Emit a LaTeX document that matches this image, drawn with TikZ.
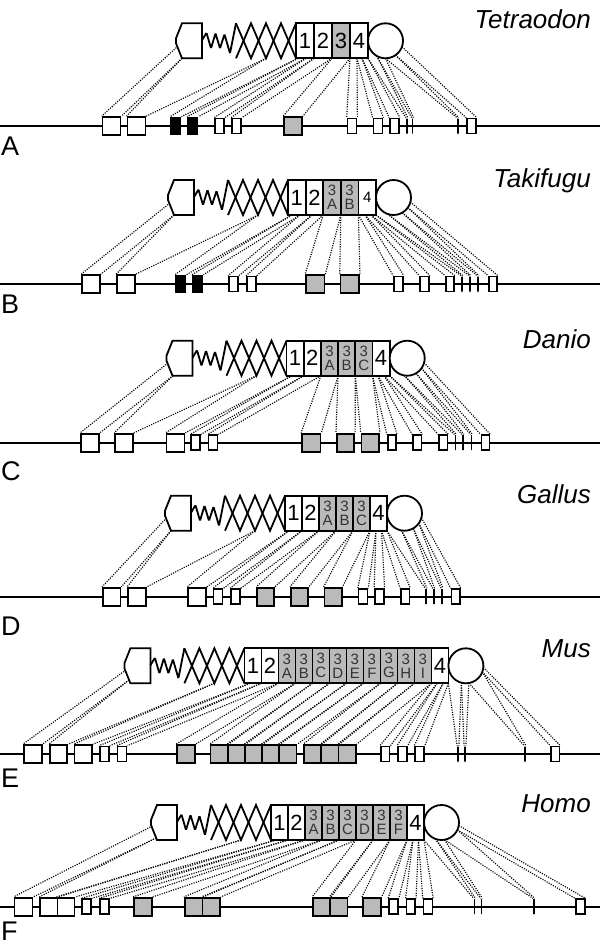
\documentclass[tikz,border=0pt]{standalone}
\usepackage{fontspec}
\setmainfont{Liberation Sans}
\pgfdeclarelayer{bg}
\pgfsetlayers{bg,main}
\tikzset{
  outl/.style={draw=black, line width=1.8pt, line join=miter},
  baseln/.style={line width=1.8pt},
  conn/.style={line width=1.15pt, dash pattern=on 1.1pt off 1.3pt},
  exw/.style={draw, line width=1.7pt, fill=white, inner sep=0pt},
  exg/.style={exw, fill=black!27},
  exk/.style={exw, fill=black},
  tk/.style={draw, line width=1.8pt, inner sep=0pt},
  bigcell/.style={outl, fill=white, inner sep=0pt, minimum height=35pt, font=\fontsize{22}{22}\selectfont},
  grbig/.style={bigcell, fill=black!27},
  smcell/.style={outl, fill=white, inner sep=0pt, minimum height=35pt, font=\fontsize{15}{15}\selectfont},
  grcell/.style={outl, fill=black!27, inner sep=0pt, minimum height=35pt, align=center, font=\fontsize{15}{14}\selectfont, text=black!80},
  spec/.style={font=\fontsize{26}{26}\selectfont\itshape, inner sep=0pt, anchor=base east},
  plab/.style={font=\fontsize{27}{27}\selectfont, inner sep=0pt, anchor=base west},
}
% #1 name, #2 hexagon left x, #3 protein top y, #4 cell width, #5 cells, #6 number of cells,
% #7 gene line y, #8 exons, #9 protein points
\newcommand\drawpanel[9]{%
  \pgfmathsetmacro\pXl{#2}%
  \pgfmathsetmacro\pYt{#3}%
  \pgfmathsetmacro\pYb{#3+35}%
  \pgfmathsetmacro\pYm{#3+17.5}%
  \pgfmathsetmacro\pXr{#2+26}%
  \pgfmathsetmacro\pXa{#2+60}%
  \pgfmathsetmacro\pXb{#2+120}%
  \foreach \k/\px/\py in {#9} {\coordinate (#1-p\k) at (\px,\py);}
  \begin{pgfonlayer}{bg}
    \draw[baseln] (0,#7) coordinate (#1-L) -- (600,#7) coordinate (#1-R);
  \end{pgfonlayer}
  \foreach \i/\ex/\ew/\eh/\es in {#8} {
    \node[\es, minimum width=\ew pt, minimum height=\eh pt] (#1-e\i) at (\ex+\ew/2,#7) {};
    \pgfmathtruncatemacro\j{\i-1}
    \begin{pgfonlayer}{bg}
      \draw[conn] (#1-p\j) -- (#1-e\i.north west);
      \draw[conn] (#1-p\i) -- (#1-e\i.north east);
    \end{pgfonlayer}
  }
  \draw[outl, fill=white] (\pXl+6,\pYt) -- (\pXr,\pYt) -- (\pXr,\pYb) -- (\pXl+6,\pYb)
     -- (\pXl,\pYt+20) -- (\pXl,\pYt+15) -- cycle;
  \draw[outl, rounded corners=1pt] (\pXr,\pYt+17) -- (\pXr+4.5,\pYt+9.5) -- (\pXr+9,\pYt+25)
     -- (\pXr+13.5,\pYt+10) -- (\pXr+18,\pYt+25) -- (\pXr+22.5,\pYt+11) -- (\pXr+28,\pYt+30) -- (\pXa,\pYt);
  \draw[outl] (\pXa,\pYt) -- (\pXa+7.5,\pYm) -- (\pXa+15,\pYb) -- (\pXa+22.5,\pYm) -- (\pXa+30,\pYt)
     -- (\pXa+37.5,\pYm) -- (\pXa+45,\pYb) -- (\pXa+52.5,\pYm) -- (\pXb,\pYt);
  \draw[outl] (\pXa,\pYb) -- (\pXa+7.5,\pYm) -- (\pXa+15,\pYt) -- (\pXa+22.5,\pYm) -- (\pXa+30,\pYb)
     -- (\pXa+37.5,\pYm) -- (\pXa+45,\pYt) -- (\pXa+52.5,\pYm) -- (\pXb,\pYb);
  \foreach \lab/\sty [count=\n from 0] in {#5} {
    \pgfmathsetmacro\cx{\pXb+(\n+0.5)*#4}
    \node[\sty, minimum width=#4 pt] (#1-c\n) at (\cx,\pYm) {\lab};
  }
  \node[outl, circle, fill=white, minimum size=35pt, inner sep=0pt] (#1-o) at ({\pXb+#6*#4+17.5},\pYm) {};
}
\begin{document}
\begin{tikzpicture}[x=1pt, y=-1pt]
\begin{pgfonlayer}{bg}
  \fill[white] (0,0) rectangle (600,951);
\end{pgfonlayer}
\useasboundingbox (0,0) rectangle (600,951);

% ---------------- A
\drawpanel{A}{176}{23.3}{18}{1/bigcell,2/bigcell,3/grbig,4/bigcell}{4}{126}
{1/102.6/18/18/exw, 2/127.4/18/18/exw, 3/171/9.6/17/exk, 4/188/9.6/17/exk, 5/215/9/15/exw,
 6/232/9/15/exw, 7/284/18/18/exg, 8/347.5/9/15/exw, 9/373.5/9/15/exw, 10/390/9/15/exw,
 11/406.8/0/15/tk, 12/412.5/0/15/tk, 13/457.7/0/15/tk, 14/467/9/15/exw}
{0/178/46, 1/182/58.3, 2/266/58.3, 3/298/58.3, 4/306/58.3, 5/314/58.3, 6/332/58.3, 7/350/58.3,
 8/357/58.3, 9/362/58.3, 10/368/58.3, 11/376.8/56, 12/385.5/58.3, 13/395.5/55.1, 14/402/46.8}
\node[spec] (nA) at (591,28) {Tetraodon};
\node[plab] (lA) at (1,155) {A};

% ---------------- B
\drawpanel{B}{168}{180}{17.6}{1/bigcell,2/bigcell,3\\A/grcell,3\\B/grcell,4/smcell}{5}{284}
{1/82/18/18/exw, 2/117/18/18/exw, 3/176/9.6/17/exk, 4/193/9.6/17/exk, 5/229/9/15/exw,
 6/247/9/15/exw, 7/306/18.5/18/exg, 8/340.6/18.5/18/exg, 9/394/9/15/exw, 10/420/9/15/exw,
 11/446/8/15/exw, 12/462/0/15/tk, 13/470/0/15/tk, 14/478/0/15/tk, 15/489/8/15/exw}
{0/170/203, 1/174/215, 2/258/215, 3/292/215, 4/300/215, 5/312/215, 6/323.2/215, 7/340.8/215,
 8/358.4/215, 9/365/215, 10/371/215, 11/376/215, 12/387.5/213.9, 13/402.3/212.7, 14/407.8/207.5, 15/410.4/202}
\node[spec] (nB) at (591,187) {Takifugu};
\node[plab] (lB) at (1,313) {B};

% ---------------- C
\drawpanel{C}{166.5}{340.7}{17.2}{1/bigcell,2/bigcell,3\\A/grcell,3\\B/grcell,3\\C/grcell,4/bigcell}{6}{442.7}
{1/81/18/18/exw, 2/115/18/18/exw, 3/166.5/18/18/exw, 4/191/9/15/exw, 5/208.6/9/15/exw,
 6/302/18.5/18/exg, 7/336.8/17.5/18/exg, 8/361.6/17.5/18/exg, 9/387.7/8.5/15/exw, 10/413/8.5/15/exw,
 11/439/8.5/15/exw, 12/455.4/0/15/tk, 13/463/0/15/tk, 14/471.5/0/15/tk, 15/481.4/8/15/exw}
{0/168/363, 1/173/375.7, 2/256.5/375.7, 3/292/375.7, 4/303.7/375.7, 5/320.9/375.7, 6/338.1/375.7,
 7/355.3/375.7, 8/372.5/375.7, 9/378/375.7, 10/384/375.7, 11/389.7/375.7, 12/404.2/375.4,
 13/416/373.4, 14/421.5/368.2, 15/424.1/362.7}
\node[spec] (nC) at (591,348) {Danio};
\node[plab] (lC) at (1,480) {C};

% ---------------- D
\drawpanel{D}{165}{495.7}{17}{1/bigcell,2/bigcell,3\\A/grcell,3\\B/grcell,3\\C/grcell,4/bigcell}{6}{596.7}
{1/103/17.5/18/exw, 2/128/18/18/exw, 3/188/18/18/exw, 4/213.5/9/15/exw, 5/230.8/9/15/exw,
 6/257/17/18/exg, 7/290.8/17.2/18/exg, 8/324.5/17.2/18/exg, 9/358.6/8.8/15/exw, 10/375/8.8/15/exw,
 11/401/8.5/15/exw, 12/426/0/15/tk, 13/433.6/0/15/tk, 14/442/0/15/tk, 15/451.6/8.4/15/exw}
{0/166.5/518, 1/171/530.7, 2/255/530.7, 3/289/530.7, 4/302/530.7, 5/319/530.7, 6/336/530.7,
 7/353/530.7, 8/370/530.7, 9/376/530.7, 10/381.5/530.7, 11/387/530.7, 12/401.5/530.4,
 13/413.3/528.4, 14/418.8/523.2, 15/421.4/517.7}
\node[spec] (nD) at (591,503) {Gallus};
\node[plab] (lD) at (1,635) {D};

% ---------------- E
\drawpanel{E}{124.4}{648.3}{17}{1/bigcell,2/bigcell,3\\A/grcell,3\\B/grcell,3\\C/grcell,3\\D/grcell,3\\E/grcell,3\\F/grcell,3\\G/grcell,3\\H/grcell,3\\I/grcell,4/bigcell}{12}{754}
{1/23.7/18/18/exw, 2/49.7/17.5/18/exw, 3/74.6/17.5/18/exw, 4/100/9/15/exw, 5/117.5/9/15/exw,
 6/176.8/18/18/exg, 7/210.5/17.2/18/exg, 8/227.7/17.2/18/exg, 9/244.9/17.2/18/exg, 10/262.1/17.2/18/exg,
 11/279.3/17.2/18/exg, 12/304/17.3/18/exg, 13/321.3/17.3/18/exg, 14/338.6/17.3/18/exg,
 15/380.8/8.8/15/exw, 16/398/8.8/15/exw, 17/415.2/8.8/15/exw, 18/458/0/15/tk, 19/465/0/15/tk,
 20/525/0/15/tk, 21/551/8.5/15/exw}
{0/126/670, 1/129/680, 2/214.4/683.3, 3/250/683.3, 4/261.4/683.3, 5/278.4/683.3, 6/295.4/683.3,
 7/312.4/683.3, 8/329.4/683.3, 9/346.4/683.3, 10/363.4/683.3, 11/380.4/683.3, 12/397.4/683.3,
 13/414.4/683.3, 14/431.4/683.3, 15/437/683.3, 16/443/683.3, 17/448.4/683.3, 18/461.4/682.7,
 19/468.9/683, 20/482.3/671.8, 21/483.3/667.3}
\node[spec] (nE) at (591,657) {Mus};
\node[plab] (lE) at (1,787) {E};

% ---------------- F
\drawpanel{F}{151}{805}{17}{1/bigcell,2/bigcell,3\\A/grcell,3\\B/grcell,3\\C/grcell,3\\D/grcell,3\\E/grcell,3\\F/grcell,4/bigcell}{9}{906.7}
{1/14.5/18/18/exw, 2/40.2/17.2/18/exw, 3/57.4/17.2/18/exw, 4/82.3/8.7/15/exw, 5/100/9/15/exw,
 6/134/18/18/exg, 7/184.8/17.6/18/exg, 8/202.4/17.6/18/exg, 9/313/17.3/18/exg, 10/330.3/17.3/18/exg,
 11/362.8/18/18/exg, 12/389/9/15/exw, 13/406.4/8.8/15/exw, 14/423.6/8.8/15/exw,
 15/474.5/0/15/tk, 16/481.4/0/15/tk, 17/533.8/0/15/tk, 18/576/8.7/15/exw}
{0/152.5/826, 1/156/838, 2/241/840, 3/276/840, 4/288/840, 5/305/840, 6/322/840, 7/339/840,
 8/356/840, 9/373/840, 10/390/840, 11/407/840, 12/413/840, 13/418.5/840, 14/424/840,
 15/435.5/838.9, 16/444.5/839.7, 17/457.4/829.9, 18/458.7/825.5}
\node[spec] (nF) at (591,812) {Homo};
\node[plab] (lF) at (1,940) {F};
\end{tikzpicture}
\end{document}
